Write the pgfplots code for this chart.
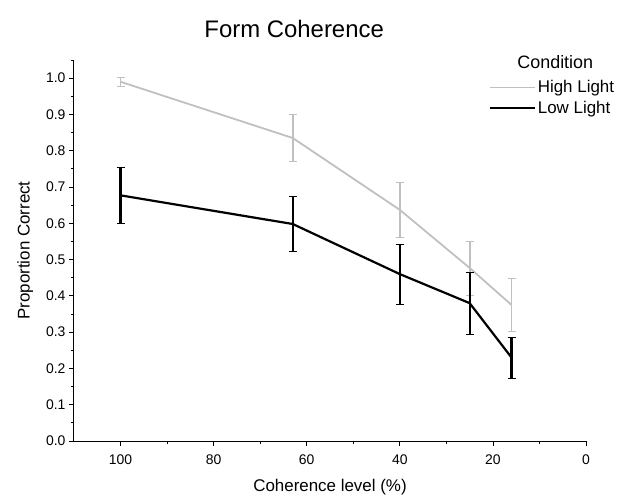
\documentclass[border=0pt]{standalone}
\usepackage{pgfplots}
\pgfplotsset{compat=1.18}
\usepackage{fontspec}
\setmainfont{Liberation Sans}
\definecolor{hilight}{RGB}{192,192,192}

\begin{document}
\begin{tikzpicture}
\useasboundingbox (-74bp,-59bp) rectangle (557bp,441bp);
\begin{axis}[
    scale only axis,
    width=512bp, height=381bp,
    clip=false,
    x dir=reverse,
    xmin=0, xmax=110, ymin=0, ymax=1.05,
    axis x line*=bottom, axis y line*=left,
    axis line style={line width=1pt, -},
    tick align=outside,
    major tick length=5bp, minor tick length=3bp,
    every tick/.style={black, line width=0.8pt},
    xtick={0,20,...,100}, minor xtick={10,30,...,90},
    ytick={0,0.1,...,1.0}, minor ytick={0.05,0.15,...,1.05},
    yticklabel style={/pgf/number format/.cd, fixed, fixed zerofill, precision=1},
    xticklabel style={yshift=-5bp},
    /pgf/number format/assume math mode=true,
    tick label style={font=\fontsize{14}{16}\selectfont},
    xlabel={Coherence level (\%)},
    ylabel={Proportion Correct},
    xlabel style={yshift=-8bp},
    ylabel style={yshift=6bp},
    label style={font=\fontsize{17}{20}\selectfont},
    legend style={draw=none, fill=none, at={(1.065,0.957)}, anchor=north east,
        font=\fontsize{17}{20}\selectfont, row sep=3bp},
    legend cell align=left,
    legend image code/.code={\draw[#1] (0bp,0bp) -- (45bp,0bp);},
    error bars/y dir=both, error bars/y explicit,
    error bars/error mark options={rotate=90, mark size=4bp},
]
\addplot[hilight, line width=1.8pt,
    error bars/error bar style={hilight, line width=1.8pt}]
    coordinates {
    (100,0.99) +- (0,0.012)
    (63,0.835) +- (0,0.065)
    (40,0.637) +- (0,0.075)
    (25,0.477) +- (0,0.075)
    (16,0.375) +- (0,0.073)
};
\addlegendentry{High Light}
\addplot[black, line width=2.2pt,
    error bars/error bar style={black, line width=2.2pt}]
    coordinates {
    (100,0.677) +- (0,0.078)
    (63,0.598) +- (0,0.076)
    (40,0.46) +- (0,0.082)
    (25,0.38) +- (0,0.085)
    (16,0.23) +- (0,0.057)
};
\addlegendentry{Low Light}
\node[font=\fontsize{18}{21}\selectfont, anchor=base] at (rel axis cs:0.94,0.977) {Condition};
\node[font=\fontsize{24}{28}\selectfont, anchor=base] at (rel axis cs:0.43,1.06) {Form Coherence};
\end{axis}
\end{tikzpicture}
\end{document}
